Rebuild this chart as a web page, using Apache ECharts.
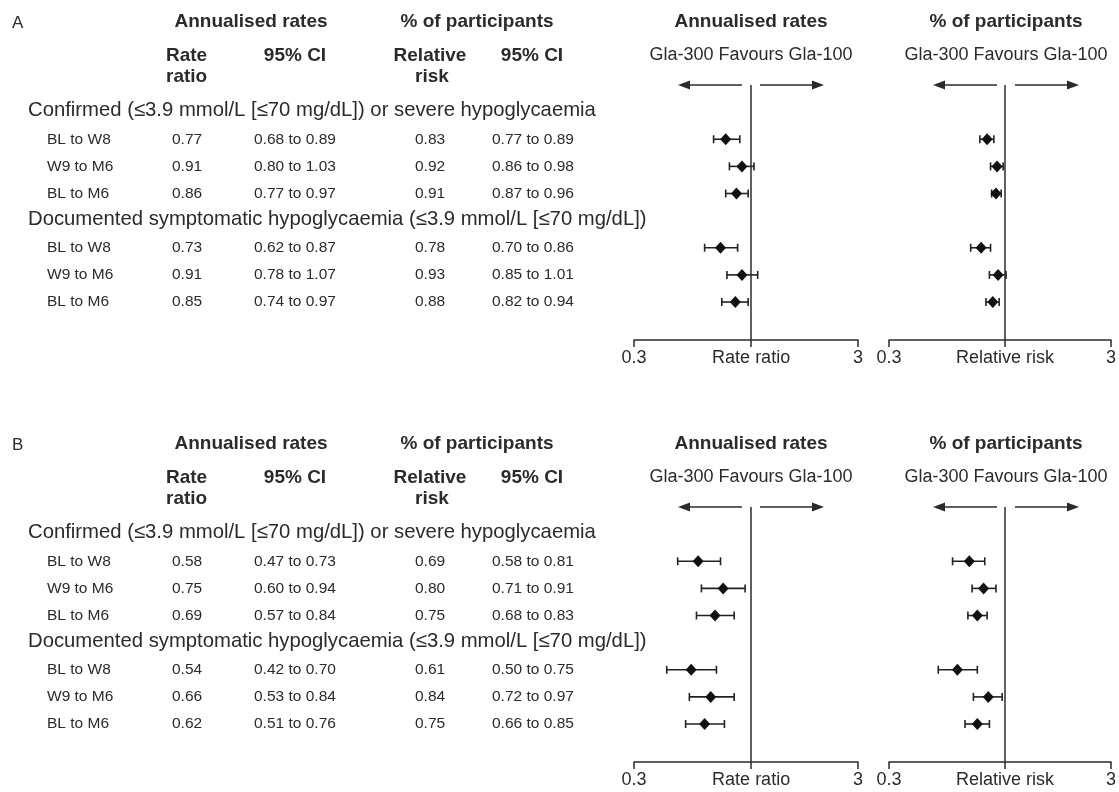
<!DOCTYPE html>
<html>
<head>
<meta charset="utf-8">
<script src="https://cdn.jsdelivr.net/npm/echarts@6/dist/echarts.min.js"></script>
<style>
html, body { margin: 0; background: #fff; }
#chart { width: 1119px; height: 792px; }
</style>
</head>
<body>
<div id="chart"></div>
<script>
// rows and groups
var periods = ['BL to W8', 'W9 to M6', 'BL to M6', 'BL to W8', 'W9 to M6', 'BL to M6'];
var groups = ['Confirmed (≤3.9 mmol/L [≤70 mg/dL]) or severe hypoglycaemia',
              'Documented symptomatic hypoglycaemia (≤3.9 mmol/L [≤70 mg/dL])'];
var rowSlots = [1, 2, 3, 5, 6, 7];
var groupSlots = [0, 4];
var xTicks = [0.3, 1, 3];
var axisNames = ['Rate ratio', 'Relative risk'];

// panel A
var rateA   = [0.77, 0.91, 0.86, 0.73, 0.91, 0.85];
var rateLoA = [0.68, 0.80, 0.77, 0.62, 0.78, 0.74];
var rateHiA = [0.89, 1.03, 0.97, 0.87, 1.07, 0.97];
var riskA   = [0.83, 0.92, 0.91, 0.78, 0.93, 0.88];
var riskLoA = [0.77, 0.86, 0.87, 0.70, 0.85, 0.82];
var riskHiA = [0.89, 0.98, 0.96, 0.86, 1.01, 0.94];

// panel B
var rateB   = [0.58, 0.75, 0.69, 0.54, 0.66, 0.62];
var rateLoB = [0.47, 0.60, 0.57, 0.42, 0.53, 0.51];
var rateHiB = [0.73, 0.94, 0.84, 0.70, 0.84, 0.76];
var riskB   = [0.69, 0.80, 0.75, 0.61, 0.84, 0.75];
var riskLoB = [0.58, 0.71, 0.68, 0.50, 0.72, 0.66];
var riskHiB = [0.81, 0.91, 0.83, 0.75, 0.97, 0.85];

var panels = [
  { letter: 'A', top: 85, rate: rateA, rateLo: rateLoA, rateHi: rateHiA, risk: riskA, riskLo: riskLoA, riskHi: riskHiA },
  { letter: 'B', top: 507, rate: rateB, rateLo: rateLoB, rateHi: rateHiB, risk: riskB, riskLo: riskLoB, riskHi: riskHiB }
];

var FONT = "'Liberation Sans', Arial, sans-serif";
var INK = '#2b2b2b';
var colX = [47, 172, 254, 415, 492];

var chart = echarts.init(document.getElementById('chart'));

var grids = [], xAxes = [], yAxes = [], series = [], graphics = [];

function f2(v) { return v.toFixed(2); }

function txt(x, y, s, size, bold, align) {
  return {
    type: 'text', x: x, y: y, silent: true,
    style: { text: s, fill: INK, fontFamily: FONT, fontSize: size, fontWeight: bold ? 'bold' : 'normal',
             align: align || 'center', verticalAlign: 'middle' }
  };
}

function arrow(x1, x2, y) {
  var dir = x2 > x1 ? 1 : -1;
  return [
    { type: 'line', silent: true, shape: { x1: x1, y1: y, x2: x2 - dir * 8, y2: y }, style: { stroke: INK, lineWidth: 1.6 } },
    { type: 'polygon', silent: true, shape: { points: [[x2, y], [x2 - dir * 12, y - 4.5], [x2 - dir * 12, y + 4.5]] }, style: { fill: INK } }
  ];
}

panels.forEach(function (p, pi) {
  var off = p.top - 85;
  var plots = [
    { left: 634, est: p.rate, lo: p.rateLo, hi: p.rateHi, title: 'Annualised rates', name: axisNames[0] },
    { left: 889, est: p.risk, lo: p.riskLo, hi: p.riskHi, title: '% of participants', name: axisNames[1] }
  ];

  plots.forEach(function (pl, k) {
    var g = grids.length;
    grids.push({ left: pl.left, width: 224, top: p.top, height: 255 });
    xAxes.push({
      type: 'log', gridIndex: g, min: 0.3, max: 3, logBase: 10, position: 'bottom',
      axisLine: { onZero: false, lineStyle: { color: INK, width: 1.5 } },
      axisTick: { customValues: xTicks, length: 7, lineStyle: { color: INK, width: 1.5 } },
      axisLabel: {
        customValues: xTicks, color: INK, fontFamily: FONT, fontSize: 18, margin: 9,
        formatter: (function (nm) {
          return function (v) {
            var r = Math.round(v * 10) / 10;
            return r === 1 ? nm : String(r);
          };
        })(pl.name)
      },
      splitLine: { show: false }
    });
    yAxes.push({ type: 'value', gridIndex: g, inverse: true, min: -1, max: 8.4, show: false });

    // CI whiskers
    series.push({
      type: 'custom', xAxisIndex: g, yAxisIndex: g, silent: true,
      data: rowSlots.map(function (s, i) { return [pl.lo[i], pl.hi[i], s]; }),
      encode: { x: [0, 1], y: 2 },
      renderItem: function (params, api) {
        var a = api.coord([api.value(0), api.value(2)]);
        var b = api.coord([api.value(1), api.value(2)]);
        var h = 4, st = { stroke: '#222', lineWidth: 1.6 };
        return {
          type: 'group', children: [
            { type: 'line', shape: { x1: a[0], y1: a[1], x2: b[0], y2: b[1] }, style: st },
            { type: 'line', shape: { x1: a[0], y1: a[1] - h, x2: a[0], y2: a[1] + h }, style: st },
            { type: 'line', shape: { x1: b[0], y1: b[1] - h, x2: b[0], y2: b[1] + h }, style: st }
          ]
        };
      }
    });

    // point estimates + line of no effect
    series.push({
      type: 'scatter', xAxisIndex: g, yAxisIndex: g, silent: true,
      symbol: 'diamond', symbolSize: [11, 12],
      itemStyle: { color: '#111', opacity: 1 },
      data: rowSlots.map(function (s, i) { return [pl.est[i], s]; }),
      markLine: {
        silent: true, symbol: 'none', label: { show: false }, animation: false,
        lineStyle: { type: 'solid', color: INK, width: 1.5 },
        data: [{ xAxis: 1 }]
      }
    });

    var cx = pl.left + 117;
    graphics.push(txt(cx, 22 + off, pl.title, 19, true));
    graphics.push(txt(cx, 55 + off, 'Gla-300 Favours Gla-100', 18, false));
    graphics = graphics.concat(arrow(cx - 9, cx - 73, 85 + off), arrow(cx + 9, cx + 73, 85 + off));

    if (k === 0) {
      // table of values, rows placed on the same y scale as the forest plot
      series.push({
        type: 'custom', xAxisIndex: g, yAxisIndex: g, silent: true, clip: false,
        data: rowSlots.map(function (s) { return [1, s]; }),
        encode: { x: 0, y: 1 },
        renderItem: (function (pp) {
          return function (params, api) {
            var i = params.dataIndex;
            var y = api.coord([1, api.value(1)])[1];
            var cells = [periods[i], f2(pp.rate[i]), f2(pp.rateLo[i]) + ' to ' + f2(pp.rateHi[i]),
                         f2(pp.risk[i]), f2(pp.riskLo[i]) + ' to ' + f2(pp.riskHi[i])];
            return {
              type: 'group', children: cells.map(function (c, j) {
                return { type: 'text', style: { text: c, x: colX[j], y: y, fill: INK, fontFamily: FONT,
                         fontSize: 15.5, align: 'left', verticalAlign: 'middle' } };
              })
            };
          };
        })(p)
      });
      series.push({
        type: 'custom', xAxisIndex: g, yAxisIndex: g, silent: true, clip: false,
        data: groupSlots.map(function (s) { return [1, s]; }),
        encode: { x: 0, y: 1 },
        renderItem: function (params, api) {
          var y = api.coord([1, api.value(1)])[1];
          return { type: 'text', style: { text: groups[params.dataIndex], x: 28, y: y - 1.5, fill: INK,
                   fontFamily: FONT, fontSize: 20.3, align: 'left', verticalAlign: 'middle' } };
        }
      });
    }
  });

  graphics.push(txt(12, 23 + off, p.letter, 17, false, 'left'));
  graphics.push(txt(251, 22 + off, 'Annualised rates', 19, true));
  graphics.push(txt(477, 22 + off, '% of participants', 19, true));
  graphics.push(txt(166, 56 + off, 'Rate', 19, true, 'left'));
  graphics.push(txt(166, 77 + off, 'ratio', 19, true, 'left'));
  graphics.push(txt(295, 56 + off, '95% CI', 19, true));
  graphics.push(txt(430, 56 + off, 'Relative', 19, true));
  graphics.push(txt(432, 77 + off, 'risk', 19, true));
  graphics.push(txt(532, 56 + off, '95% CI', 19, true));
});

chart.setOption({
  backgroundColor: '#fff',
  animation: false,
  grid: grids,
  xAxis: xAxes,
  yAxis: yAxes,
  series: series,
  graphic: graphics
});
</script>
</body>
</html>
